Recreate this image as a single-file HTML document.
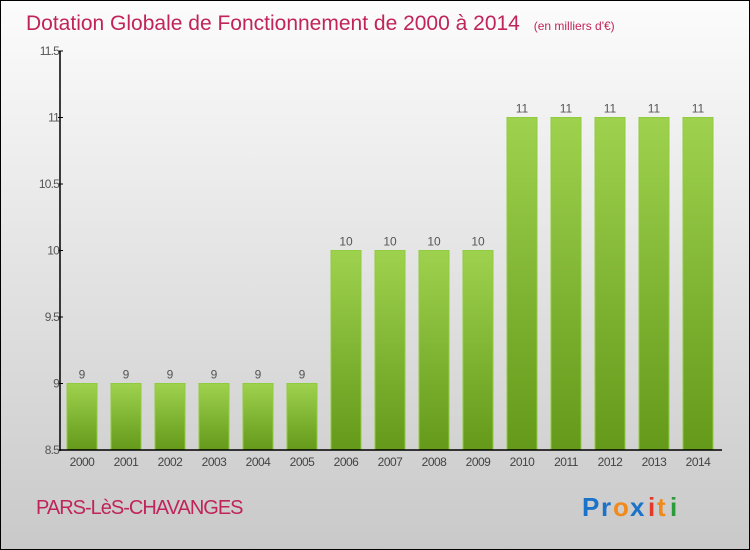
<!DOCTYPE html>
<html><head><meta charset="utf-8"><style>
body{margin:0;width:750px;height:550px;overflow:hidden;font-family:"Liberation Sans",sans-serif}
svg{display:block}
</style></head><body>
<svg id="chart" width="750" height="550">
<defs>
<linearGradient id="bg" x1="0" y1="0" x2="0" y2="1"><stop offset="0" stop-color="#fcfcfc"/><stop offset="1" stop-color="#c9c9c9"/></linearGradient>
<linearGradient id="bar" x1="0" y1="0" x2="0" y2="1"><stop offset="0" stop-color="#9ed24e"/><stop offset="1" stop-color="#64991a"/></linearGradient>
</defs>
<rect x="0.5" y="0.5" width="749" height="549" fill="url(#bg)" stroke="#000"/>
<text x="26" y="30" font-size="21" fill="#c0245a">Dotation Globale de Fonctionnement de 2000 à 2014 <tspan font-size="12" dx="8">(en milliers d'€)</tspan></text>
<g id="bars"></g>
<g id="axes"></g>
<text x="36" y="514" font-size="20" fill="#c0245a" letter-spacing="-1">PARS-LèS-CHAVANGES</text>
<g font-size="26" font-weight="bold">
<text x="582" y="516" fill="#1a73c9">P</text><text x="601" y="516" fill="#1a73c9">r</text><text x="613" y="516" fill="#f08a1c">o</text><text x="630" y="516" fill="#1a73c9">x</text><text x="648" y="516" fill="#e23a2a">i</text><text x="657" y="516" fill="#f08a1c">t</text><text x="670" y="516" fill="#2a9a3a">i</text>
</g>
</svg>
<script>
const categories=["2000","2001","2002","2003","2004","2005","2006","2007","2008","2009","2010","2011","2012","2013","2014"];
const values=[9,9,9,9,9,9,10,10,10,10,11,11,11,11,11];
const yTicks=[8.5,9,9.5,10,10.5,11,11.5];
const yTickLabels=["8.5","9","9.5","10","10.5","11","11.5"];
const NS="http://www.w3.org/2000/svg";
const yMin=8.5,yMax=11.5,plotTop=51,plotBottom=450,plotLeft=60,plotRight=722;
function yScale(v){return plotBottom-(v-yMin)/(yMax-yMin)*(plotBottom-plotTop);}
function xScale(i){return 82+i*44;}
function mk(tag,attrs,parent){const e=document.createElementNS(NS,tag);for(const k in attrs)e.setAttribute(k,attrs[k]);parent.appendChild(e);return e;}
const gb=document.getElementById('bars'),ga=document.getElementById('axes');
values.forEach((v,i)=>{
 const r=mk('rect',{x:xScale(i)-15,y:yScale(v),width:30,height:plotBottom-yScale(v),fill:'url(#bar)',stroke:'#8fcc3e','stroke-width':1},gb);
 
 
 const t=mk('text',{x:xScale(i),y:yScale(v)-5,'text-anchor':'middle','font-size':12,fill:'#555'},gb);
 t.textContent=String(v);
 
 
 const c=mk('text',{x:xScale(i),y:plotBottom+16,'text-anchor':'middle','font-size':12,fill:'#444','letter-spacing':'-0.5'},ga);
 c.textContent=categories[i];
 
 
});
yTicks.forEach((v,i)=>{
 mk('line',{x1:plotLeft-2,x2:plotLeft+3,y1:yScale(v),y2:yScale(v),stroke:'#000'},ga);
 const t=mk('text',{x:plotLeft-1,y:yScale(v)+4,'text-anchor':'end','font-size':12,fill:'#555','letter-spacing':'-0.8'},ga);
 t.textContent=yTickLabels[i];
 
 
});
const ya=mk('line',{x1:plotLeft,x2:plotLeft,y1:plotTop,y2:plotBottom+1,stroke:'#000','stroke-width':1.5},ga);


const xa=mk('line',{x1:plotLeft,x2:plotRight,y1:plotBottom,y2:plotBottom,stroke:'#000','stroke-width':1.5},ga);


</script>
</body></html>
